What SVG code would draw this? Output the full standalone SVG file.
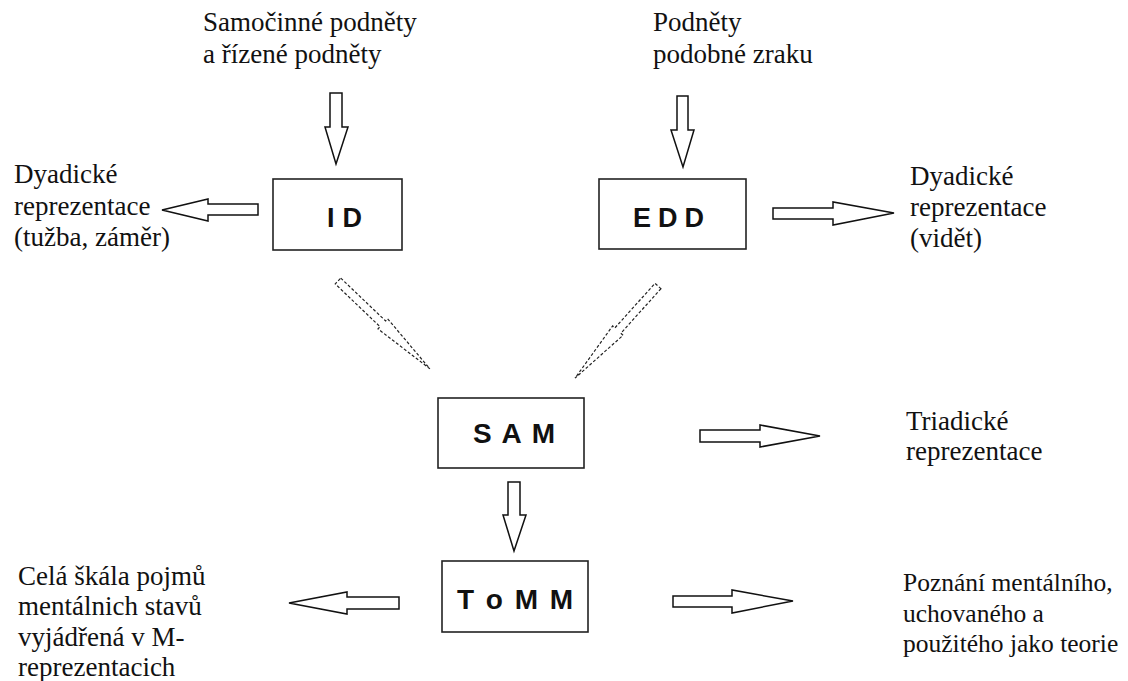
<svg xmlns="http://www.w3.org/2000/svg" width="1128" height="681" viewBox="0 0 1128 681">
<style>
.box{fill:#fff;stroke:#222;stroke-width:1.6}
.lbl{font-family:"Liberation Sans",Arial,sans-serif;font-weight:bold;fill:#111;text-anchor:start}
.t{font-family:"Times New Roman","Liberation Serif",serif;font-size:27px;fill:#111}
.t2{font-size:25.5px}
.ar{fill:#fff;stroke:#111;stroke-width:1.5;stroke-linejoin:miter}
.dar{fill:none;stroke:#222;stroke-width:1.2;stroke-dasharray:3 2}
</style>
<rect width="1128" height="681" fill="#fff"/>
<g id="connectors">
<polygon class="ar" points="330,93 342,93 342,127 348,127 336,164 325,127 330,127"/>
<polygon class="ar" points="677,96 688,96 688,130 694,130 683,167 671,130 677,130"/>
<polygon class="ar" points="258,204 258,215 208,215 208,221 162,210 208,199 208,204"/>
<polygon class="ar" points="773,208 833,208 833,202 894,213 833,225 833,219 773,219"/>
<polygon class="ar" points="700,430 760,430 760,425 820,436 760,447 760,442 700,442"/>
<polygon class="ar" points="508,482 520,482 520,515 526,515 514,551 503,515 508,515"/>
<polygon class="ar" points="673,596 732,596 732,590 793,601 732,613 732,607 673,607"/>
<polygon class="ar" points="399,597 399,609 347,609 347,614 289,603 347,592 347,597"/>
<polygon class="dar" transform="translate(338,281) rotate(43.7)" points="0,-4 62,-4 62,-7 127,0 62,7 62,4 0,4"/>
<polygon class="dar" transform="translate(658,286) rotate(132)" points="0,-4 60,-4 60,-7 124,0 60,7 60,4 0,4"/>
</g>
<g id="node-ID">
<rect class="box" x="273" y="179" width="129" height="71"/>
<text class="lbl" x="327" y="227" font-size="27" textLength="35" lengthAdjust="spacing">I D</text>
</g>
<g id="node-EDD">
<rect class="box" x="599" y="179" width="147" height="70"/>
<text class="lbl" x="633" y="227" font-size="27" textLength="71" lengthAdjust="spacing">E D D</text>
</g>
<g id="node-SAM">
<rect class="box" x="438" y="398" width="146" height="70"/>
<text class="lbl" x="473" y="443" font-size="28" textLength="82" lengthAdjust="spacing">S A M</text>
</g>
<g id="node-ToMM">
<rect class="box" x="442" y="561" width="146" height="71"/>
<text class="lbl" x="457" y="609" font-size="28" textLength="116" lengthAdjust="spacing">T o M M</text>
</g>
<g id="text-top-left">
<text class="t" x="203" y="31">Samočinné podněty</text>
<text class="t" x="203" y="63">a řízené podněty</text>
</g>
<g id="text-top-right">
<text class="t" x="653" y="31">Podněty</text>
<text class="t" x="653" y="63">podobné zraku</text>
</g>
<g id="text-left-dyadic">
<text class="t" x="14" y="183">Dyadické</text>
<text class="t" x="14" y="215">reprezentace</text>
<text class="t" x="14" y="246">(tužba, záměr)</text>
</g>
<g id="text-right-dyadic">
<text class="t" x="910" y="185">Dyadické</text>
<text class="t" x="910" y="216">reprezentace</text>
<text class="t" x="910" y="247">(vidět)</text>
</g>
<g id="text-triadic">
<text class="t" x="906" y="430">Triadické</text>
<text class="t" x="906" y="460">reprezentace</text>
</g>
<g id="text-bottom-left">
<text class="t" x="18" y="585">Celá škála pojmů</text>
<text class="t" x="18" y="615">mentálnich stavů</text>
<text class="t" x="18" y="646">vyjádřená v M-</text>
<text class="t" x="18" y="676">reprezentacich</text>
</g>
<g id="text-bottom-right">
<text class="t t2" x="903" y="591">Poznání mentálního,</text>
<text class="t t2" x="903" y="622">uchovaného a</text>
<text class="t t2" x="903" y="652">použitého jako teorie</text>
</g>
</svg>
